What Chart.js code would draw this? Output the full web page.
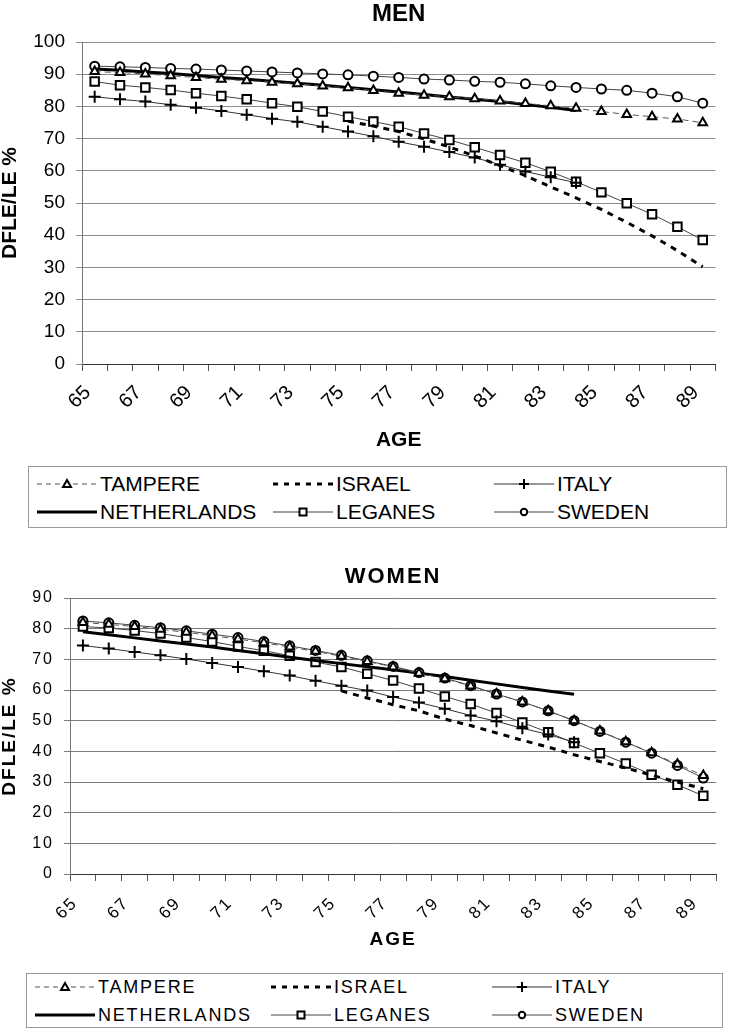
<!DOCTYPE html>
<html lang="en">
<head>
<meta charset="UTF-8">
<title>DFLE/LE % by age</title>
<script src="https://cdn.jsdelivr.net/npm/chart.js"></script>
<style>
  body { margin: 0; background: #fff; }
  #page { position: relative; width: 730px; height: 1028px; overflow: hidden; font-family: "Liberation Sans", Arial, sans-serif; color: #000; }
  canvas { position: absolute; left: 0; }
  #menChart { top: 0; }
  #womenChart { top: 540px; }
  .legend { position: absolute; border: 1px solid #9a9a9a; box-sizing: border-box; }
  #menLegend { left: 28px; top: 466px; width: 699px; height: 62px; font-size: 21px; }
  #womenLegend { left: 26px; top: 973px; width: 697px; height: 55px; font-size: 18px; letter-spacing: 1.8px; }
  .item { position: absolute; height: 22px; display: flex; align-items: center; white-space: nowrap; }
  .item svg { margin-right: 3px; }
</style>
</head>
<body>
<div id="page">
  <canvas id="menChart" width="730" height="460"></canvas>
  <div class="legend" id="menLegend"></div>
  <canvas id="womenChart" width="730" height="430"></canvas>
  <div class="legend" id="womenLegend"></div>
</div>

<script>
// ages on the x axis
const ages = [65, 66, 67, 68, 69, 70, 71, 72, 73, 74, 75, 76, 77, 78, 79, 80, 81, 82, 83, 84, 85, 86, 87, 88, 89];
const shownAgeTicks = [65, 67, 69, 71, 73, 75, 77, 79, 81, 83, 85, 87, 89];
const menYTicks = [0, 10, 20, 30, 40, 50, 60, 70, 80, 90, 100];
const womenYTicks = [0, 10, 20, 30, 40, 50, 60, 70, 80, 90];

const seriesNames = ['TAMPERE', 'ISRAEL', 'ITALY', 'NETHERLANDS', 'LEGANES', 'SWEDEN'];

// MEN
const menTampere = [90.8, 90.5, 90.1, 89.5, 89.0, 88.4, 88.0, 87.5, 87.0, 86.3, 85.8, 84.9, 84.1, 83.5, 83.0, 82.4, 81.7, 80.9, 80.2, 79.4, 78.4, 77.5, 76.8, 76.1, 74.9];
const menIsrael = [null, null, null, null, null, null, null, null, null, null, 75.4, 73.9, 72.2, 69.9, 67.4, 64.6, 61.6, 58.5, 55.0, 51.6, 48.0, 44.0, 39.8, 35.2, 30.2];
const menItaly = [83.0, 82.2, 81.5, 80.5, 79.6, 78.6, 77.4, 76.2, 75.2, 73.7, 72.2, 70.7, 69.0, 67.5, 65.8, 64.1, 61.9, 59.8, 58.0, 56.3];
const menNetherlands = [91.6, 91.2, 90.7, 90.2, 89.6, 89.0, 88.4, 87.8, 87.2, 86.6, 85.9, 85.2, 84.5, 83.7, 82.9, 82.2, 81.5, 80.6, 79.7, 78.7];
const menLeganes = [87.7, 86.6, 85.9, 85.1, 84.1, 83.2, 82.2, 81.0, 79.9, 78.4, 76.8, 75.3, 73.7, 71.6, 69.6, 67.3, 64.9, 62.5, 59.7, 56.6, 53.3, 49.9, 46.5, 42.6, 38.5];
const menSweden = [92.5, 92.3, 92.1, 91.8, 91.6, 91.3, 91.0, 90.7, 90.4, 90.1, 89.8, 89.4, 89.0, 88.5, 88.2, 87.8, 87.5, 87.0, 86.4, 85.9, 85.4, 85.0, 84.1, 83.0, 81.0];

// WOMEN
const womenTampere = [82.0, 81.4, 80.7, 79.8, 78.8, 77.7, 76.6, 75.4, 74.0, 72.6, 71.0, 69.3, 67.5, 65.5, 63.7, 61.3, 58.7, 56.1, 53.2, 50.0, 46.6, 43.1, 39.5, 35.8, 32.1];
const womenIsrael = [null, null, null, null, null, null, null, null, null, null, 59.7, 57.4, 55.2, 53.2, 50.5, 48.4, 46.0, 43.6, 41.4, 38.9, 36.7, 34.6, 32.2, 30.0, 27.8];
const womenItaly = [74.5, 73.5, 72.4, 71.3, 70.1, 68.8, 67.5, 66.1, 64.7, 63.0, 61.4, 59.8, 57.7, 55.9, 53.9, 51.7, 49.8, 47.5, 45.5, 43.0];
const womenNetherlands = [79.0, 78.0, 77.0, 76.0, 75.0, 74.0, 72.9, 71.8, 70.7, 69.6, 68.6, 67.6, 66.6, 65.5, 64.4, 63.2, 62.0, 60.8, 59.7, 58.6];
const womenLeganes = [80.7, 80.2, 79.4, 78.4, 77.1, 75.8, 74.2, 72.8, 71.2, 69.1, 67.5, 65.3, 63.1, 60.5, 57.9, 55.4, 52.5, 49.4, 46.2, 42.7, 39.4, 36.0, 32.4, 29.1, 25.5];
const womenSweden = [82.5, 81.9, 81.1, 80.3, 79.3, 78.2, 77.1, 75.8, 74.4, 72.9, 71.3, 69.5, 67.7, 65.7, 63.9, 61.4, 58.7, 56.1, 53.2, 50.0, 46.5, 43.0, 39.4, 35.4, 31.3];

const menValues = [menTampere, menIsrael, menItaly, menNetherlands, menLeganes, menSweden];
const womenValues = [womenTampere, womenIsrael, womenItaly, womenNetherlands, womenLeganes, womenSweden];

Chart.defaults.font.family = '"Liberation Sans", Arial, sans-serif';
Chart.defaults.color = '#000';

// line / marker look for each series
const seriesStyle = {
  TAMPERE: { borderColor: '#555', borderWidth: 1, borderDash: [6, 4], pointStyle: 'triangle', pointRadius: 5, pointBorderWidth: 2, pointBorderColor: '#000', pointBackgroundColor: '#fff' },
  ISRAEL: { borderColor: '#000', borderWidth: 3, borderDash: [6, 6], pointRadius: 0 },
  ITALY: { borderColor: '#333', borderWidth: 1, pointStyle: 'cross', pointRadius: 6, pointBorderWidth: 2, pointBorderColor: '#000' },
  NETHERLANDS: { borderColor: '#000', borderWidth: 3, pointRadius: 0 },
  LEGANES: { borderColor: '#444', borderWidth: 1, pointStyle: 'rect', pointRadius: 6, pointBorderWidth: 2, pointBorderColor: '#000', pointBackgroundColor: '#fff' },
  SWEDEN: { borderColor: '#444', borderWidth: 1, pointStyle: 'circle', pointRadius: 4.5, pointBorderWidth: 2, pointBorderColor: '#000', pointBackgroundColor: '#fff' }
};

function buildDatasets(values) {
  return seriesNames.map((name, k) => Object.assign({
    label: name,
    data: values[k],
    tension: 0,
    fill: false,
    spanGaps: false
  }, seriesStyle[name]));
}

// women's panel has spaced-out lettering
const letterSpacingPlugin = {
  id: 'letterSpacing',
  beforeUpdate(chart, args, opts) { chart.ctx.letterSpacing = opts.spacing || '0px'; },
  beforeDraw(chart, args, opts) { chart.ctx.letterSpacing = opts.spacing || '0px'; }
};

function makeChart(id, values, cfg) {
  const ctx = document.getElementById(id).getContext('2d');
  return new Chart(ctx, {
    type: 'line',
    data: { labels: ages, datasets: buildDatasets(values) },
    plugins: [letterSpacingPlugin],
    options: {
      responsive: false,
      animation: false,
      layout: { padding: { left: 0, right: cfg.padRight, top: 0, bottom: 0 } },
      plugins: {
        legend: { display: false },
        tooltip: { enabled: false },
        letterSpacing: { spacing: cfg.spacing },
        title: {
          display: true,
          text: cfg.title,
          fullSize: false,
          font: { size: cfg.titleSize, weight: 'bold', lineHeight: 1 },
          padding: cfg.titlePad
        }
      },
      scales: {
        x: {
          type: 'category',
          offset: true,
          grid: { display: true, drawOnChartArea: false, drawTicks: true, tickLength: 7, color: '#555', offset: true },
          border: { display: true, color: '#333', width: 1 },
          ticks: {
            autoSkip: false, minRotation: 45, maxRotation: 45,
            font: { size: cfg.xTickSize }, padding: cfg.xTickPad, labelOffset: cfg.xLabelShift,
            callback: (v, i) => shownAgeTicks.includes(ages[i]) ? String(ages[i]) : ''
          },
          title: { display: true, text: 'AGE', font: { size: cfg.axisTitleSize, weight: 'bold', lineHeight: 1 }, padding: { top: 0, bottom: cfg.ageBottom } },
          afterFit: s => { s.height = cfg.xHeight; }
        },
        y: {
          min: 0,
          max: cfg.yTicks[cfg.yTicks.length - 1],
          afterBuildTicks: s => { s.ticks = cfg.yTicks.map(v => ({ value: v })); },
          ticks: { font: { size: cfg.tickSize }, padding: cfg.yTickPad },
          grid: { color: cfg.gridColor, tickLength: 6 },
          border: { display: true, color: '#777' },
          title: { display: true, text: 'DFLE/LE %', font: { size: cfg.axisTitleSize, weight: 'bold', lineHeight: 1 }, padding: { top: 0, bottom: 0 } },
          afterFit: s => { s.width = cfg.yWidth; }
        }
      }
    }
  });
}

makeChart('menChart', menValues, {
  title: 'MEN', titleSize: 24, titlePad: { top: 2, bottom: 16 },
  tickSize: 19, xTickSize: 20, xTickPad: 10, xLabelShift: -7,
  axisTitleSize: 21, ageBottom: 9.5,
  xHeight: 96, yWidth: 82, yTickPad: 11, padRight: 3,
  yTicks: menYTicks, gridColor: '#8c8c8c', spacing: '0px'
});

makeChart('womenChart', womenValues, {
  title: 'WOMEN', titleSize: 22, titlePad: { top: 26, bottom: 10 },
  tickSize: 16, xTickSize: 17, xTickPad: 12, xLabelShift: -8,
  axisTitleSize: 19, ageBottom: 20.5,
  xHeight: 96, yWidth: 70, yTickPad: 10, padRight: 7,
  yTicks: womenYTicks, gridColor: '#7a7a7a', spacing: '2px'
});

// legend: three columns, two rows
function sampleSvg(name) {
  const s = seriesStyle[name];
  const dash = s.borderDash ? ` stroke-dasharray="${s.borderDash[0] - 1},${s.borderDash[1]}"` : '';
  let svg = `<svg width="60" height="16" viewBox="0 0 60 16"><line x1="0" y1="8" x2="60" y2="8" stroke="${s.borderColor}" stroke-width="${s.borderWidth === 1 ? 1.2 : 3}"${dash}/>`;
  if (s.pointStyle === 'triangle') svg += '<polygon points="30,4 34,11 26,11" fill="#fff" stroke="#000" stroke-width="2"/>';
  if (s.pointStyle === 'cross') svg += '<path d="M30 3V13M25 8H35" stroke="#000" stroke-width="2"/>';
  if (s.pointStyle === 'rect') svg += '<rect x="26.5" y="4.5" width="7" height="7" fill="#fff" stroke="#000" stroke-width="2"/>';
  if (s.pointStyle === 'circle') svg += '<circle cx="30" cy="8" r="3.2" fill="#fff" stroke="#000" stroke-width="2"/>';
  return svg + '</svg>';
}

function buildLegend(id, rowTops) {
  const box = document.getElementById(id);
  const colLefts = [8, 244, 465];
  seriesNames.forEach((name, k) => {
    const el = document.createElement('div');
    el.className = 'item';
    el.style.left = colLefts[k % 3] + 'px';
    el.style.top = rowTops[Math.floor(k / 3)] + 'px';
    el.innerHTML = sampleSvg(name) + '<span>' + name + '</span>';
    box.appendChild(el);
  });
}

buildLegend('menLegend', [6, 34]);
buildLegend('womenLegend', [2, 30]);
</script>
</body>
</html>
